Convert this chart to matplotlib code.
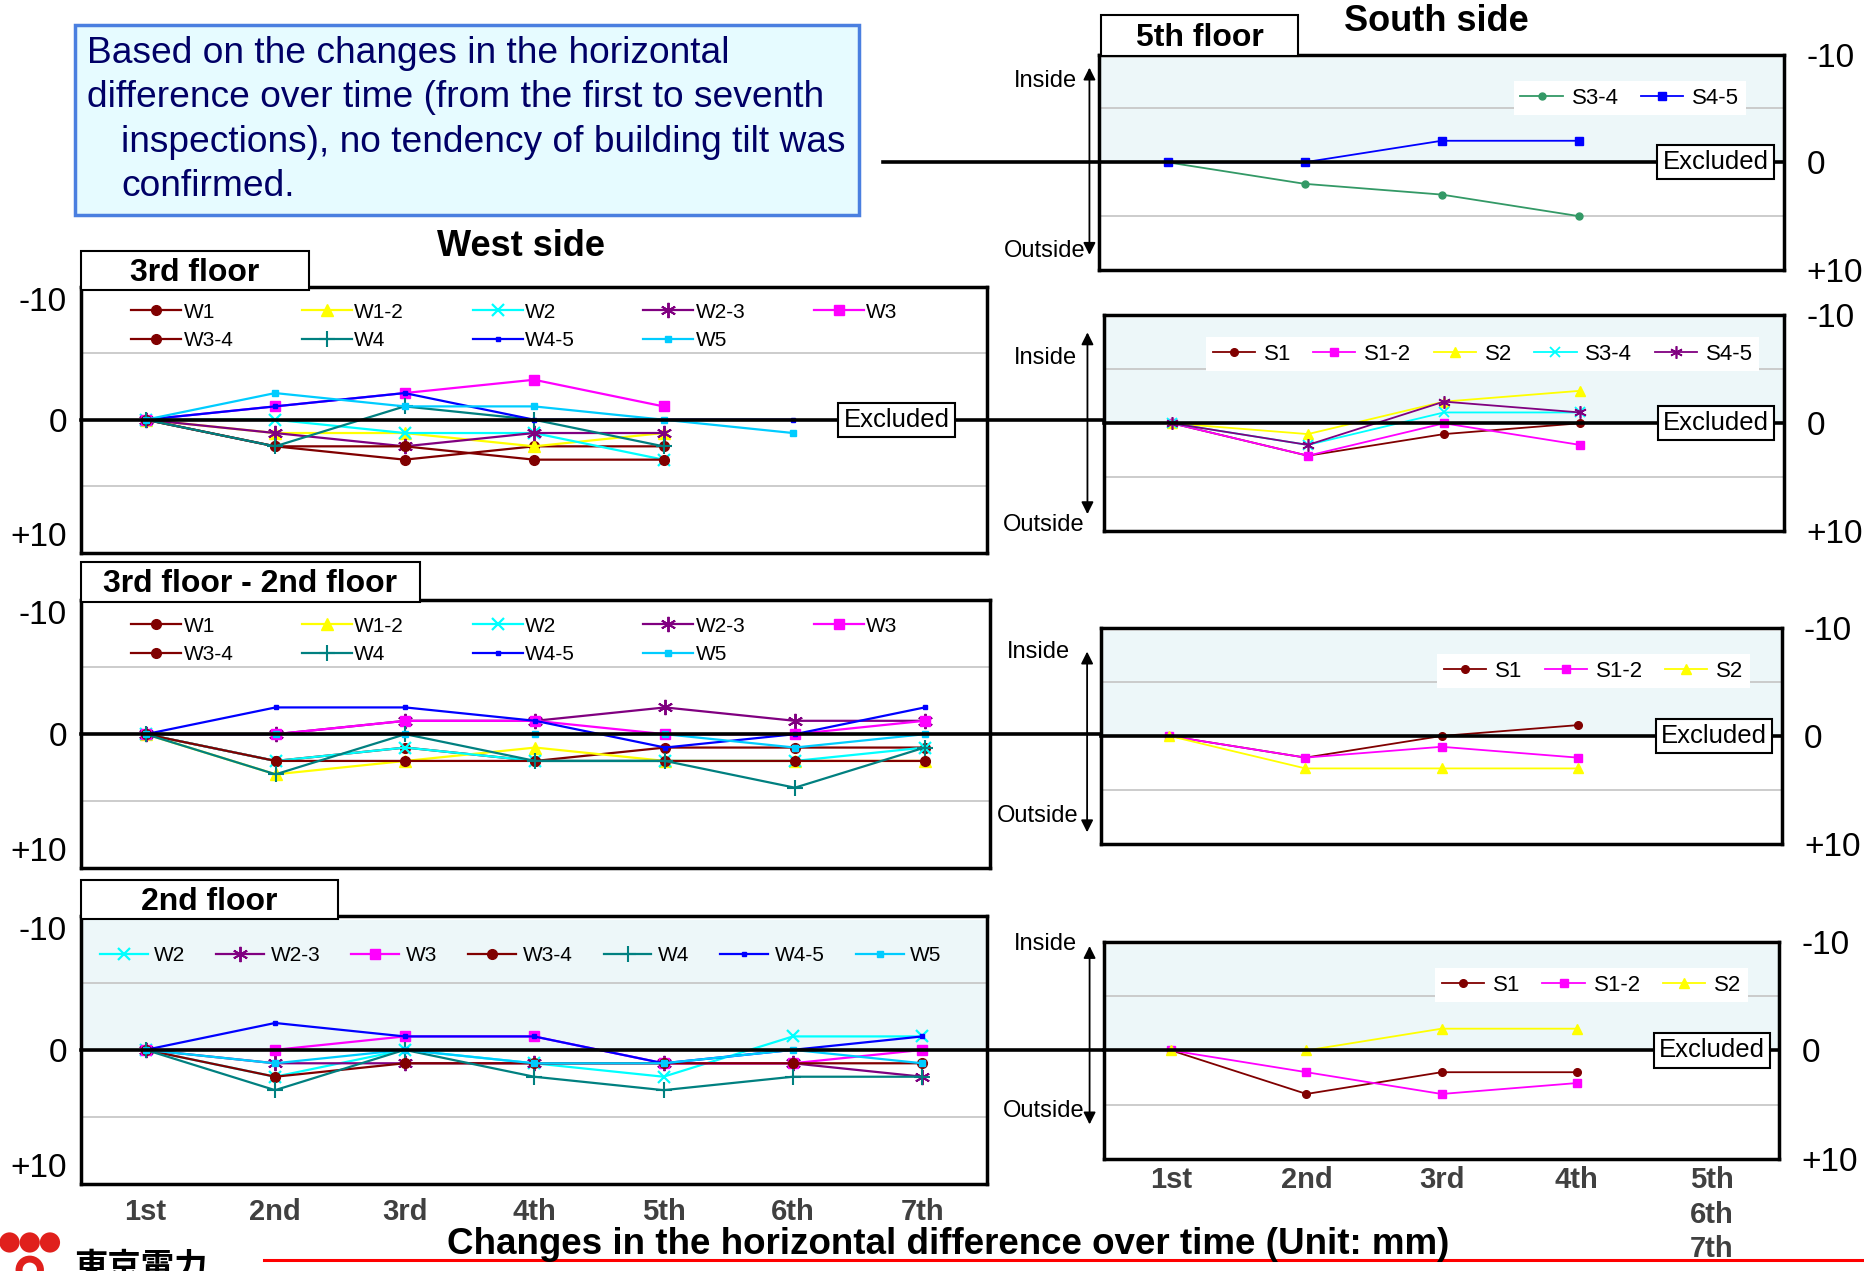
import matplotlib
matplotlib.use('Agg')
import matplotlib.pyplot as plt
from matplotlib.patches import Rectangle, Ellipse
from matplotlib.lines import Line2D

plt.rcParams['font.family'] = ['Liberation Sans', 'DejaVu Sans']

# inspection rounds
west_rounds = ['1st', '2nd', '3rd', '4th', '5th', '6th', '7th']
south_rounds = ['1st', '2nd', '3rd', '4th', '5th\n6th\n7th']
tick_vals = [-10, 0, 10]
tick_text = ['-10', '0', '+10']

# West side, 3rd floor (mm, negative = inside, positive = outside)
west_3f = {
    'W1':   [0, 2, 3, 2, 2],
    'W1-2': [0, 1, 1, 2, 1],
    'W2':   [0, 0, 1, 1, 3],
    'W2-3': [0, 1, 2, 1, 1],
    'W3':   [0, -1, -2, -3, -1],
    'W3-4': [0, 2, 2, 3, 3],
    'W4':   [0, 2, -1, 0, 2],
    'W4-5': [0, -1, -2, 0, 0, 0],
    'W5':   [0, -2, -1, -1, 0, 1],
}
# West side, 3rd floor - 2nd floor
west_32f = {
    'W1':   [0, 2, 1, 2, 1, 1, 1],
    'W1-2': [0, 3, 2, 1, 2, 2, 2],
    'W2':   [0, 2, 1, 2, 2, 2, 1],
    'W2-3': [0, 0, -1, -1, -2, -1, -1],
    'W3':   [0, 0, -1, -1, 0, 0, -1],
    'W3-4': [0, 2, 2, 2, 2, 2, 2],
    'W4':   [0, 3, 0, 2, 2, 4, 1],
    'W4-5': [0, -2, -2, -1, 1, 0, -2],
    'W5':   [0, 0, 0, 0, 0, 1, 0],
}
# West side, 2nd floor
west_2f = {
    'W2':   [0, 2, 0, 1, 2, -1, -1],
    'W2-3': [0, 1, 1, 1, 1, 1, 2],
    'W3':   [0, 0, -1, -1, 1, 1, 0],
    'W3-4': [0, 2, 1, 1, 1, 1, 1],
    'W4':   [0, 3, 0, 2, 3, 2, 2],
    'W4-5': [0, -2, -1, -1, 1, 0, -1],
    'W5':   [0, 1, 0, 1, 1, 0, 1],
}
# South side
south_5f = {
    'S3-4': [0, 2, 3, 5],
    'S4-5': [0, 0, -2, -2],
}
south_b = {
    'S1':   [0, 3, 1, 0],
    'S1-2': [0, 3, 0, 2],
    'S2':   [0, 1, -2, -3],
    'S3-4': [0, 2, -1, -1],
    'S4-5': [0, 2, -2, -1],
}
south_c = {
    'S1':   [0, 2, 0, -1],
    'S1-2': [0, 2, 1, 2],
    'S2':   [0, 3, 3, 3],
}
south_d = {
    'S1':   [0, 4, 2, 2],
    'S1-2': [0, 2, 4, 3],
    'S2':   [0, 0, -2, -2],
}

west_style = {
    'W1':   dict(color='#800000', marker='o', ms=7),
    'W1-2': dict(color='#ffff00', marker='^', ms=8),
    'W2':   dict(color='#00ffff', marker='x', ms=8, mew=1.6),
    'W2-3': dict(color='#800080', marker=(6, 2, 0), ms=11, mew=1.4),
    'W3':   dict(color='#ff00ff', marker='s', ms=7),
    'W3-4': dict(color='#800000', marker='o', ms=7),
    'W4':   dict(color='#008080', marker='+', ms=11, mew=1.5),
    'W4-5': dict(color='#0000ff', marker='s', ms=3.5),
    'W5':   dict(color='#00ccff', marker='s', ms=4),
}
south_style = {
    'S1':   dict(color='#800000', marker='o', ms=5.5),
    'S1-2': dict(color='#ff00ff', marker='s', ms=6),
    'S2':   dict(color='#ffff00', marker='^', ms=7),
    'S3-4': dict(color='#00ffff', marker='x', ms=7, mew=1.3),
    'S4-5': dict(color='#800080', marker=(6, 2, 0), ms=9, mew=1.2),
}
south_5f_style = {
    'S3-4': dict(color='#339966', marker='o', ms=5),
    'S4-5': dict(color='#0000ff', marker='s', ms=5.5),
}

REF_W, REF_H = 1568.0, 1069.0


def fig_rect(x0, y0, x1, y1):
    return [x0 / REF_W, 1 - y1 / REF_H, (x1 - x0) / REF_W, (y1 - y0) / REF_H]


def fx(x):
    return x / REF_W


def fy(y):
    return 1 - y / REF_H


fig = plt.figure(figsize=(18.65, 12.71), dpi=100)


def make_panel(rect, rounds, series, style, lw, shade, right_ticks):
    ax = fig.add_axes(fig_rect(*rect))
    if shade:
        ax.axhspan(-9.7, 0, color='#edf7f9', zorder=0, lw=0)
    for v in (-5, 5):
        ax.axhline(v, color='#c8c8c8', lw=1.3, zorder=1)
    for name, vals in series.items():
        ax.plot(range(1, len(vals) + 1), vals, label=name, lw=lw, zorder=2, **style[name])
    ax.set_xlim(0.5, len(rounds) + 0.5)
    ax.set_ylim(10, -10)
    ax.set_xticks(range(1, len(rounds) + 1))
    ax.set_xticklabels(rounds)
    ax.set_yticks(tick_vals)
    ax.set_yticklabels(tick_text)
    ax.tick_params(axis='both', length=0)
    ax.tick_params(axis='y', labelsize=24, pad=10)
    ax.tick_params(axis='x', labelbottom=False)
    if right_ticks:
        ax.yaxis.tick_right()
        ax.tick_params(axis='y', pad=16, length=0)
    else:
        labs = ax.get_yticklabels()
        labs[0].set_va('top')
        labs[2].set_va('bottom')
    for s in ax.spines.values():
        s.set_linewidth(2.5)
        s.set_color('black')
    return ax


def row_major(ax, ncol):
    h, l = ax.get_legend_handles_labels()
    n = len(h)
    nrows = -(-n // ncol)
    order = [r * ncol + c for c in range(ncol) for r in range(nrows) if r * ncol + c < n]
    return [h[i] for i in order], [l[i] for i in order]


def excluded(ax, x):
    ax.text(x, 0, 'Excluded', ha='center', va='center', fontsize=18.5, zorder=5,
            bbox=dict(boxstyle='square,pad=0.2', fc='white', ec='black', lw=1.5))


def zero_line(ax, xmin, xmax):
    ax.axhline(0, xmin=xmin, xmax=xmax, color='black', lw=2.6, zorder=3, clip_on=False)


def label_box(x0, y0, x1, y1, text):
    fig.add_artist(Rectangle((fx(x0), fy(y1)), fx(x1) - fx(x0), fy(y0) - fy(y1),
                             transform=fig.transFigure, fc='white', ec='black', lw=1.5, zorder=5))
    fig.text(fx((x0 + x1) / 2), fy((y0 + y1) / 2 + 2), text, ha='center', va='center',
             fontsize=23, fontweight='bold', zorder=6)


def in_out(ax, ax_x, top, bottom, tx, in_y, out_y):
    ax.annotate('', xy=(ax_x, top), xytext=(ax_x, bottom), xycoords='axes fraction',
                arrowprops=dict(arrowstyle='<|-|>', color='black', lw=1.3,
                                mutation_scale=18, shrinkA=0, shrinkB=0),
                annotation_clip=False)
    ax.text(tx, in_y, 'Inside', ha='right', va='center', fontsize=17, transform=ax.transAxes)
    ax.text(tx + 0.012, out_y, 'Outside', ha='right', va='center', fontsize=17,
            transform=ax.transAxes)


def south_legend(ax, ncol, anchor):
    ax.legend(ncol=ncol, loc='upper right', bbox_to_anchor=anchor, frameon=True,
              facecolor='white', edgecolor='none', framealpha=1, fancybox=False,
              fontsize=16, handlelength=1.9, handletextpad=0.4, columnspacing=1.0,
              borderpad=0.3)


# ---- West side ----
ax_w3 = make_panel((68, 241, 830, 465), west_rounds, west_3f, west_style, 1.6, False, False)
zero_line(ax_w3, 0, 1.13)
excluded(ax_w3, 6.8)
h, l = row_major(ax_w3, 5)
ax_w3.legend(h, l, ncol=5, loc='upper left', bbox_to_anchor=(0.035, 1.01), frameon=False,
             fontsize=15, handlelength=2.4, handletextpad=0.1, columnspacing=3.3,
             labelspacing=0.45)

ax_w32 = make_panel((68, 505, 832, 730), west_rounds, west_32f, west_style, 1.6, False, False)
zero_line(ax_w32, 0, 1.14)
h, l = row_major(ax_w32, 5)
ax_w32.legend(h, l, ncol=5, loc='upper left', bbox_to_anchor=(0.035, 1.01), frameon=False,
              fontsize=15, handlelength=2.4, handletextpad=0.1, columnspacing=3.3,
              labelspacing=0.45)

ax_w2 = make_panel((68, 770, 830, 996), west_rounds, west_2f, west_style, 1.6, True, False)
zero_line(ax_w2, 0, 1.13)
ax_w2.legend(ncol=7, loc='upper left', bbox_to_anchor=(0.0, 0.955), frameon=False,
             fontsize=15, handlelength=2.3, handletextpad=0.3, columnspacing=1.5)
ax_w2.tick_params(axis='x', labelbottom=True, labelsize=21, pad=10, labelcolor='#404040')
for t in ax_w2.get_xticklabels():
    t.set_fontweight('bold')

# ---- South side ----
ax_s5 = make_panel((924, 46, 1500, 227), south_rounds, south_5f, south_5f_style, 1.3, True, True)
zero_line(ax_s5, -0.315, 1)
excluded(ax_s5, 5)
south_legend(ax_s5, 2, (0.96, 0.93))
in_out(ax_s5, -0.014, 0.94, 0.07, -0.032, 0.88, 0.09)

ax_sb = make_panel((928, 265, 1500, 447), south_rounds, south_b, south_style, 1.3, True, True)
zero_line(ax_sb, 0, 1)
excluded(ax_sb, 5)
south_legend(ax_sb, 5, (0.98, 0.95))
in_out(ax_sb, -0.024, 0.92, 0.08, -0.04, 0.8, 0.03)

ax_sc = make_panel((926, 528, 1498, 710), south_rounds, south_c, south_style, 1.3, True, True)
zero_line(ax_sc, 0, 1)
excluded(ax_sc, 5)
south_legend(ax_sc, 3, (0.97, 0.93))
in_out(ax_sc, -0.021, 0.89, 0.055, -0.046, 0.89, 0.13)

ax_sd = make_panel((928, 792, 1496, 975), south_rounds, south_d, south_style, 1.3, True, True)
zero_line(ax_sd, 0, 1)
excluded(ax_sd, 5)
south_legend(ax_sd, 3, (0.97, 0.93))
in_out(ax_sd, -0.021, 0.98, 0.16, -0.04, 0.99, 0.22)
ax_sd.tick_params(axis='x', labelbottom=True, labelsize=21, pad=5, labelcolor='#404040')
for t in ax_sd.get_xticklabels():
    t.set_fontweight('bold')
    t.set_va('top')
    t.set_linespacing(1.3)

# ---- floor labels and titles ----
label_box(68, 211, 260, 244, '3rd floor')
label_box(68, 473, 353, 506, '3rd floor - 2nd floor')
label_box(68, 740, 284, 773, '2nd floor')
label_box(926, 13, 1091, 47, '5th floor')

fig.text(fx(438), fy(207), 'West side', ha='center', va='center', fontsize=26, fontweight='bold')
fig.text(fx(1208), fy(18), 'South side', ha='center', va='center', fontsize=26, fontweight='bold')

# summary box
fig.add_artist(Rectangle((fx(63), fy(181)), fx(722) - fx(63), fy(21) - fy(181),
                         transform=fig.transFigure, fc='#e6fbff', ec='#4a7fe0', lw=2.5))
summary = [
    (73, 45, 'Based on the changes in the horizontal'),
    (73, 82, 'difference over time (from the first to seventh'),
    (102, 120, 'inspections), no tendency of building tilt was'),
    (102, 157, 'confirmed.'),
]
for x, y, line in summary:
    fig.text(fx(x), fy(y), line, ha='left', va='center', fontsize=26.7, color='#000066')

# x axis title and red rule
fig.text(fx(797), fy(1047), 'Changes in the horizontal difference over time (Unit: mm)',
         ha='center', va='center', fontsize=26.5, fontweight='bold')
fig.add_artist(Line2D([fx(222), 1.0], [fy(1060), fy(1060)], transform=fig.transFigure,
                      color='red', lw=2.2))

# company logo (partly cut off at the bottom edge)
for cx in (8, 25, 42):
    fig.add_artist(Ellipse((fx(cx), fy(1045)), 17 / REF_W, 17 / REF_H,
                           transform=fig.transFigure, fc='#e0201c', ec='none'))
fig.add_artist(Ellipse((fx(25), fy(1068)), 18 / REF_W, 18 / REF_H, transform=fig.transFigure,
                       fc='none', ec='#e0201c', lw=5))
fig.text(fx(62), fy(1052), '東京電力', ha='left', va='top', fontsize=24, fontweight='bold',
         family=['Noto Sans CJK JP', 'DejaVu Sans'])

fig.savefig('out.png', dpi=100)
